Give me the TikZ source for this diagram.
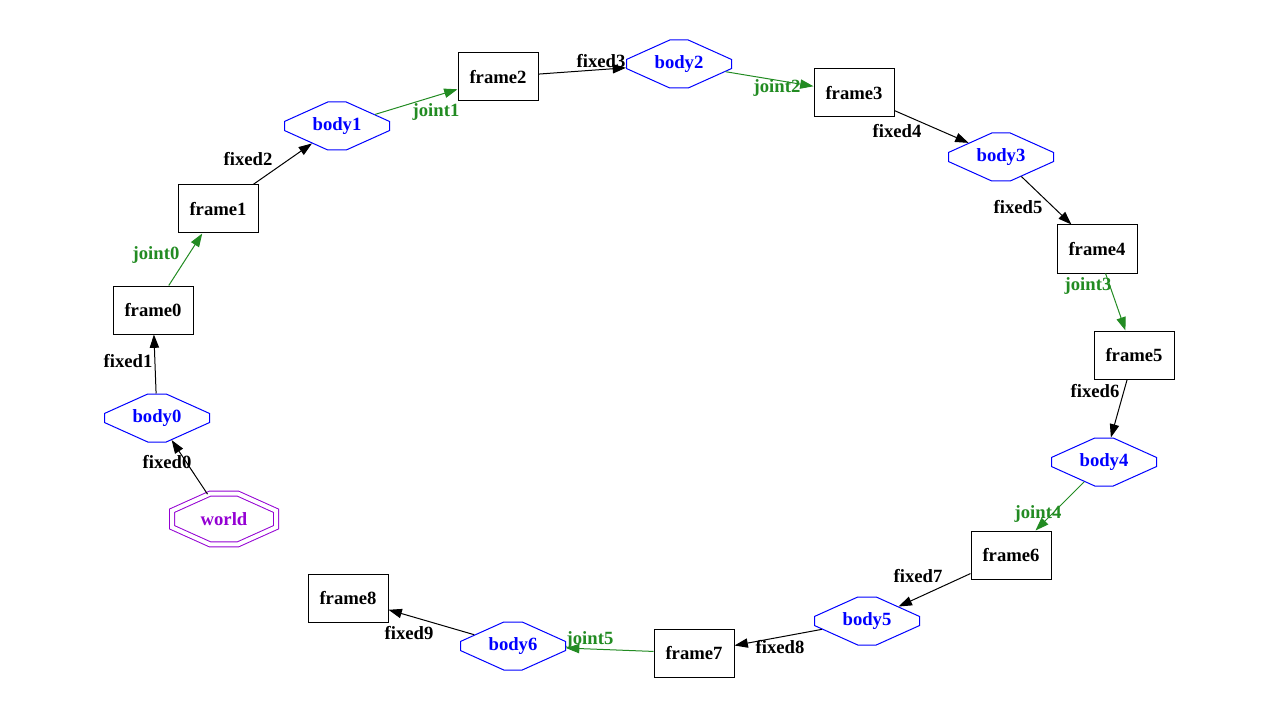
\documentclass[tikz,border=0pt]{standalone}
\usepackage{fontspec}
\setmainfont{Liberation Serif}
\usetikzlibrary{shapes.misc,arrows.meta}
\definecolor{jointgreen}{RGB}{34,139,34}
\definecolor{worldpurple}{RGB}{148,0,211}
\begin{document}
\begin{tikzpicture}[x=0.75pt,y=-0.75pt,
    font=\fontsize{14pt}{16pt}\selectfont\bfseries,
    every path/.style={line width=0.75pt},
    framebox/.style={draw, rectangle, minimum width=60pt, minimum height=36pt, inner sep=0pt},
    bodybox/.style={draw=blue, text=blue, chamfered rectangle, chamfered rectangle angle=65.8,
        chamfered rectangle xsep=22.5pt, chamfered rectangle ysep=10.1pt,
        minimum width=78.75pt, minimum height=36pt, inner sep=0pt},
    worldbox/.style={draw=worldpurple, text=worldpurple, double=white, double distance=3pt,
        chamfered rectangle, chamfered rectangle angle=65.8,
        chamfered rectangle xsep=21pt, chamfered rectangle ysep=9.4pt,
        minimum width=78pt, minimum height=38pt, inner sep=0pt},
    fixedarrow/.style={-{Triangle[length=10pt,width=7pt]}, black},
    jointarrow/.style={-{Triangle[length=10pt,width=7pt]}, jointgreen},
    jointlabel/.style={text=jointgreen}]
        \useasboundingbox (0,0) rectangle (1280,720);
        % nodes
        \node[worldbox] (world) at (224,519) {world};
        \node[bodybox]  (body0) at (157,418) {body0};
        \node[framebox] (frame0) at (153,310) {frame0};
        \node[framebox] (frame1) at (218,209) {frame1};
        \node[bodybox]  (body1) at (337,126) {body1};
        \node[framebox] (frame2) at (498,77) {frame2};
        \node[bodybox]  (body2) at (679,64) {body2};
        \node[framebox] (frame3) at (854,93) {frame3};
        \node[bodybox]  (body3) at (1001,157) {body3};
        \node[framebox] (frame4) at (1097,249) {frame4};
        \node[framebox] (frame5) at (1134,355) {frame5};
        \node[bodybox]  (body4) at (1104,462) {body4};
        \node[framebox] (frame6) at (1011,555) {frame6};
        \node[bodybox]  (body5) at (867,621) {body5};
        \node[framebox] (frame7) at (694,653) {frame7};
        \node[bodybox]  (body6) at (513,646) {body6};
        \node[framebox] (frame8) at (348,598) {frame8};
        % edges
        \draw[fixedarrow] (world) -- (body0);
        \draw[fixedarrow] (body0) -- (frame0);
        \draw[jointarrow] (frame0) -- (frame1);
        \draw[fixedarrow] (frame1) -- (body1);
        \draw[jointarrow] (body1) -- (frame2);
        \draw[fixedarrow] (frame2) -- (body2);
        \draw[jointarrow] (body2) -- (frame3);
        \draw[fixedarrow] (frame3) -- (body3);
        \draw[fixedarrow] (body3) -- (frame4);
        \draw[jointarrow] (frame4) -- (frame5);
        \draw[fixedarrow] (frame5) -- (body4);
        \draw[jointarrow] (body4) -- (frame6);
        \draw[fixedarrow] (frame6) -- (body5);
        \draw[fixedarrow] (body5) -- (frame7);
        \draw[jointarrow] (frame7) -- (body6);
        \draw[fixedarrow] (body6) -- (frame8);
        % edge labels
        \node (fixed0) at (167,462) {fixed0};
        \node (fixed1) at (128,361) {fixed1};
        \node[jointlabel] (joint0) at (156,255) {joint0};
        \node (fixed2) at (248,159) {fixed2};
        \node[jointlabel] (joint1) at (436,112) {joint1};
        \node (fixed3) at (601,61) {fixed3};
        \node[jointlabel] (joint2) at (777,88) {joint2};
        \node (fixed4) at (897,131) {fixed4};
        \node (fixed5) at (1018,207) {fixed5};
        \node[jointlabel] (joint3) at (1088,286) {joint3};
        \node (fixed6) at (1095,391) {fixed6};
        \node[jointlabel] (joint4) at (1038,514) {joint4};
        \node (fixed7) at (918,576) {fixed7};
        \node (fixed8) at (780,647) {fixed8};
        \node[jointlabel] (joint5) at (590,640) {joint5};
        \node (fixed9) at (409,633) {fixed9};
\end{tikzpicture}
\end{document}
